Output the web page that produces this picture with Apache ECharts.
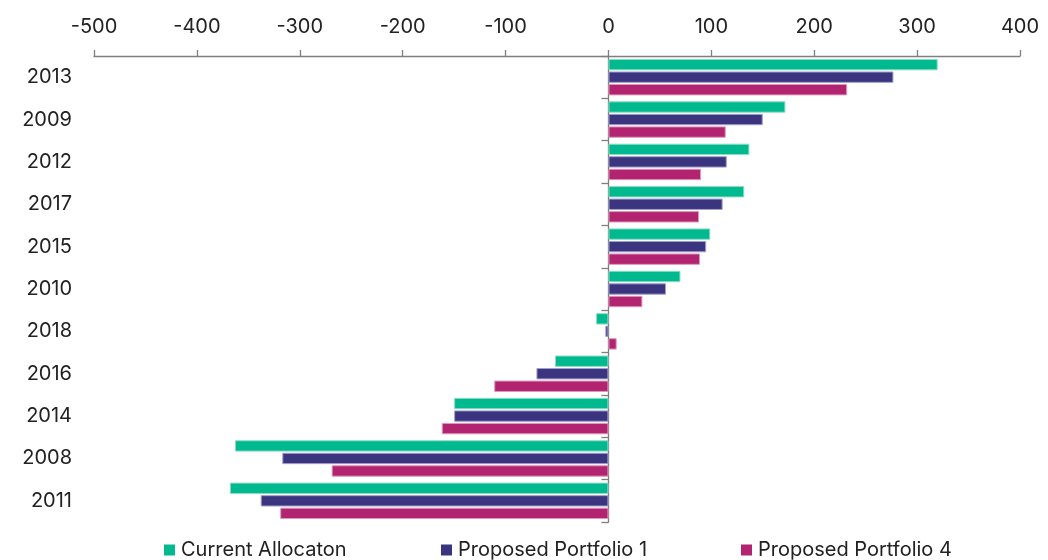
<!DOCTYPE html>
<html>
<head>
<meta charset="utf-8">
<style>
  html, body { margin: 0; padding: 0; background: #ffffff; }
  #chart { width: 1048px; height: 560px; }
</style>
<script src="https://cdn.jsdelivr.net/npm/echarts@6/dist/echarts.min.js"></script>
</head>
<body>
<div id="chart"></div>
<script>
// Years, ordered from top to bottom
const years = ['2013', '2009', '2012', '2017', '2015', '2010', '2018', '2016', '2014', '2008', '2011'];

// Returns per portfolio and year
const currentAllocation = [320, 172, 137, 132, 99, 70, -12, -52, -150, -363, -368];
const proposedPortfolio1 = [277, 150, 115, 111, 95, 56, -3, -70, -150, -317, -338];
const proposedPortfolio4 = [232, 114, 90, 88, 89, 33, 8, -111, -162, -269, -319];

const seriesNames = ['Current Allocaton', 'Proposed Portfolio 1', 'Proposed Portfolio 4'];
const seriesColors = ['#00b98e', '#3b3580', '#b2246f'];
const seriesEdges = ['#8fdcc6', '#a3a0cc', '#dc98bd'];
const seriesData = [currentAllocation, proposedPortfolio1, proposedPortfolio4];

const FONT = 'Inter, "Noto Sans", sans-serif';
const TEXT = '#222222';
const AXIS = '#7f7f7f';

const chart = echarts.init(document.getElementById('chart'), null, { renderer: 'canvas' });

const legendLefts = [159, 436, 736];

chart.setOption({
  animation: false,
  backgroundColor: '#ffffff',
  grid: { left: 94, right: 28, top: 56, bottom: 38, containLabel: false },
  xAxis: {
    type: 'value',
    position: 'top',
    min: -500,
    max: 400,
    interval: 100,
    axisLine: { show: true, lineStyle: { color: AXIS, width: 1.3 } },
    axisTick: { show: true, length: 6, lineStyle: { color: AXIS, width: 1.3 } },
    axisLabel: { color: TEXT, fontFamily: FONT, fontSize: 20, margin: 19 },
    splitLine: { show: false }
  },
  yAxis: [
    {
      // year labels along the left edge
      type: 'category',
      data: years,
      inverse: true,
      axisLine: { show: false, onZero: false },
      axisTick: { show: false },
      axisLabel: { color: TEXT, fontFamily: FONT, fontSize: 20, margin: 22 }
    },
    {
      // axis line and boundary ticks sitting on x = 0
      type: 'category',
      data: years,
      inverse: true,
      position: 'left',
      axisLine: { show: true, onZero: true, lineStyle: { color: AXIS, width: 1.3 } },
      axisTick: { show: true, length: 7, lineStyle: { color: AXIS, width: 1.3 } },
      axisLabel: { show: false }
    }
  ],
  legend: seriesNames.map((name, i) => ({
    data: [name],
    left: legendLefts[i],
    top: 535,
    itemWidth: 11,
    itemHeight: 11,
    itemGap: 6,
    icon: 'rect',
    itemStyle: { borderWidth: 0 },
    textStyle: { color: TEXT, fontFamily: FONT, fontSize: 20, padding: [0, 0, 0, 1] }
  })),
  series: seriesNames.map((name, i) => ({
    name: name,
    type: 'bar',
    yAxisIndex: 0,
    data: seriesData[i],
    barCategoryGap: '14%',
    barGap: '10%',
    itemStyle: {
      color: seriesColors[i],
      borderColor: seriesEdges[i],
      borderWidth: 1
    },
    z: 1
  }))
});
</script>
</body>
</html>
